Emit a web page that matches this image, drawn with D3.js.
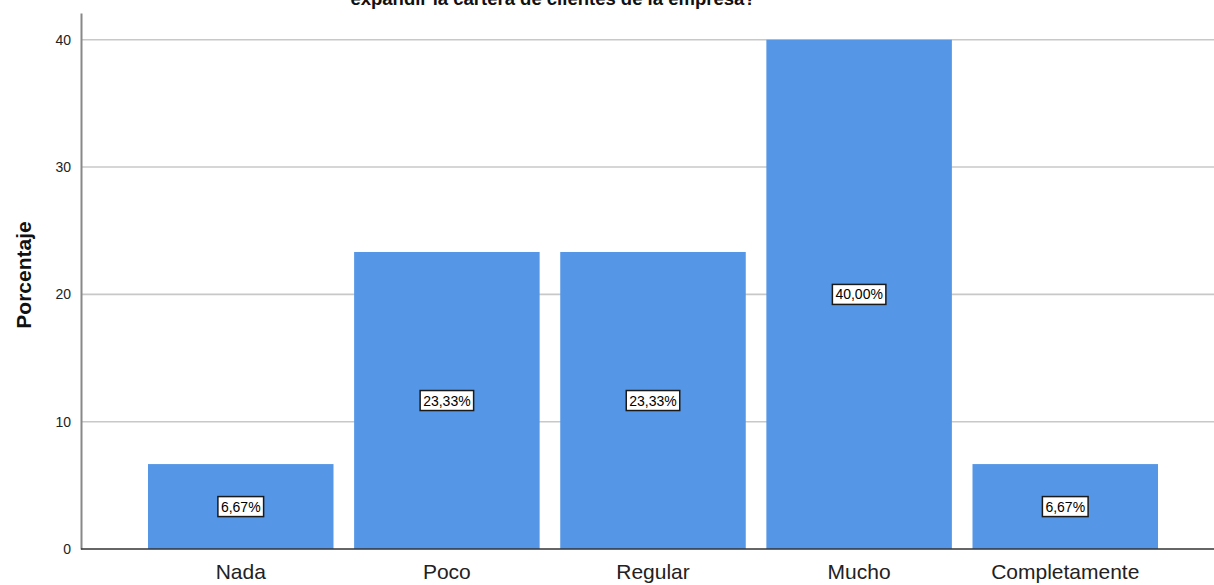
<!DOCTYPE html>
<html>
<head>
<meta charset="utf-8">
<script src="https://cdn.jsdelivr.net/npm/d3@7"></script>
<style>
  body { margin: 0; background: #fff; }
  text { font-family: Arial, "Liberation Sans", sans-serif; }
</style>
</head>
<body>
<script>
// Data
const categories = ["Nada", "Poco", "Regular", "Mucho", "Completamente"];
const values = [6.67, 23.33, 23.33, 40.00, 6.67];
const yTicks = [0, 10, 20, 30, 40];
const title = "expandir la cartera de clientes de la empresa?";

const W = 1214, H = 585;
const plotLeft = 81, plotBottom = 549, plotTop = 13;

const svg = d3.select("body").append("svg")
  .attr("width", W)
  .attr("height", H);

const y = d3.scaleLinear()
  .domain([0, 42.1])
  .range([plotBottom, plotTop]);

const x = d3.scaleBand()
  .domain(categories)
  .range([plotLeft, 1225])
  .paddingInner(0.1)
  .paddingOuter(0.325);

// gridlines
svg.append("g")
  .selectAll("line")
  .data(yTicks.filter(d => d > 0))
  .join("line")
  .attr("x1", plotLeft).attr("x2", W)
  .attr("y1", d => y(d)).attr("y2", d => y(d))
  .attr("stroke", "#c8c8c8")
  .attr("stroke-width", 1.6);

// bars
svg.append("g")
  .selectAll("rect")
  .data(values)
  .join("rect")
  .attr("x", (d, i) => x(categories[i]))
  .attr("width", x.bandwidth())
  .attr("y", d => y(d))
  .attr("height", d => plotBottom - y(d))
  .attr("fill", "#5596e6");

// y axis
let yAxis = svg.append("g")
  .attr("transform", `translate(${plotLeft},0)`)
  .call(d3.axisLeft(y).tickValues(yTicks).tickSize(0).tickPadding(10));
yAxis.select(".domain").attr("stroke", "#888").attr("stroke-width", 2);
yAxis.selectAll(".tick text")
  .attr("font-size", 14)
  .attr("fill", "#222");

// x axis (baseline)
let xAxis = svg.append("g")
  .attr("transform", `translate(0,${plotBottom})`)
  .call(d3.axisBottom(x).tickSize(0).tickPadding(15));
xAxis.select(".domain").attr("d", `M${plotLeft},0H${W}`).attr("stroke", "#333").attr("stroke-width", 1.3);
xAxis.selectAll(".tick text")
  .attr("font-size", 21)
  .attr("fill", "#222");

// value labels
const lab = svg.append("g")
  .selectAll("g")
  .data(values)
  .join("g")
  .attr("transform", (d, i) => `translate(${x(categories[i]) + x.bandwidth() / 2},${(y(d) + plotBottom) / 2})`);

lab.append("text")
  .attr("text-anchor", "middle")
  .attr("dy", "0.36em")
  .attr("font-size", 14)
  .attr("fill", "#000")
  .text(d => d.toFixed(2).replace(".", ",") + "%")
  .each(function () {
    const b = this.getBBox();
    d3.select(this.parentNode).insert("rect", "text")
      .attr("x", b.x - 3).attr("y", b.y - 2)
      .attr("width", b.width + 6).attr("height", b.height + 4)
      .attr("fill", "#fff")
      .attr("stroke", "#1a1a1a")
      .attr("stroke-width", 1.5);
  });

// y axis title
svg.append("text")
  .attr("transform", `translate(31,${(plotTop + plotBottom) / 2 - 6}) rotate(-90)`)
  .attr("text-anchor", "middle")
  .attr("font-size", 21)
  .attr("font-weight", "bold")
  .attr("fill", "#111")
  .text("Porcentaje");

// chart title (cut off at top, as in the original)
svg.append("text")
  .attr("x", 553)
  .attr("y", 5)
  .attr("text-anchor", "middle")
  .attr("font-size", 18.5)
  .attr("font-weight", "bold")
  .attr("fill", "#111")
  .text(title);
</script>
</body>
</html>
